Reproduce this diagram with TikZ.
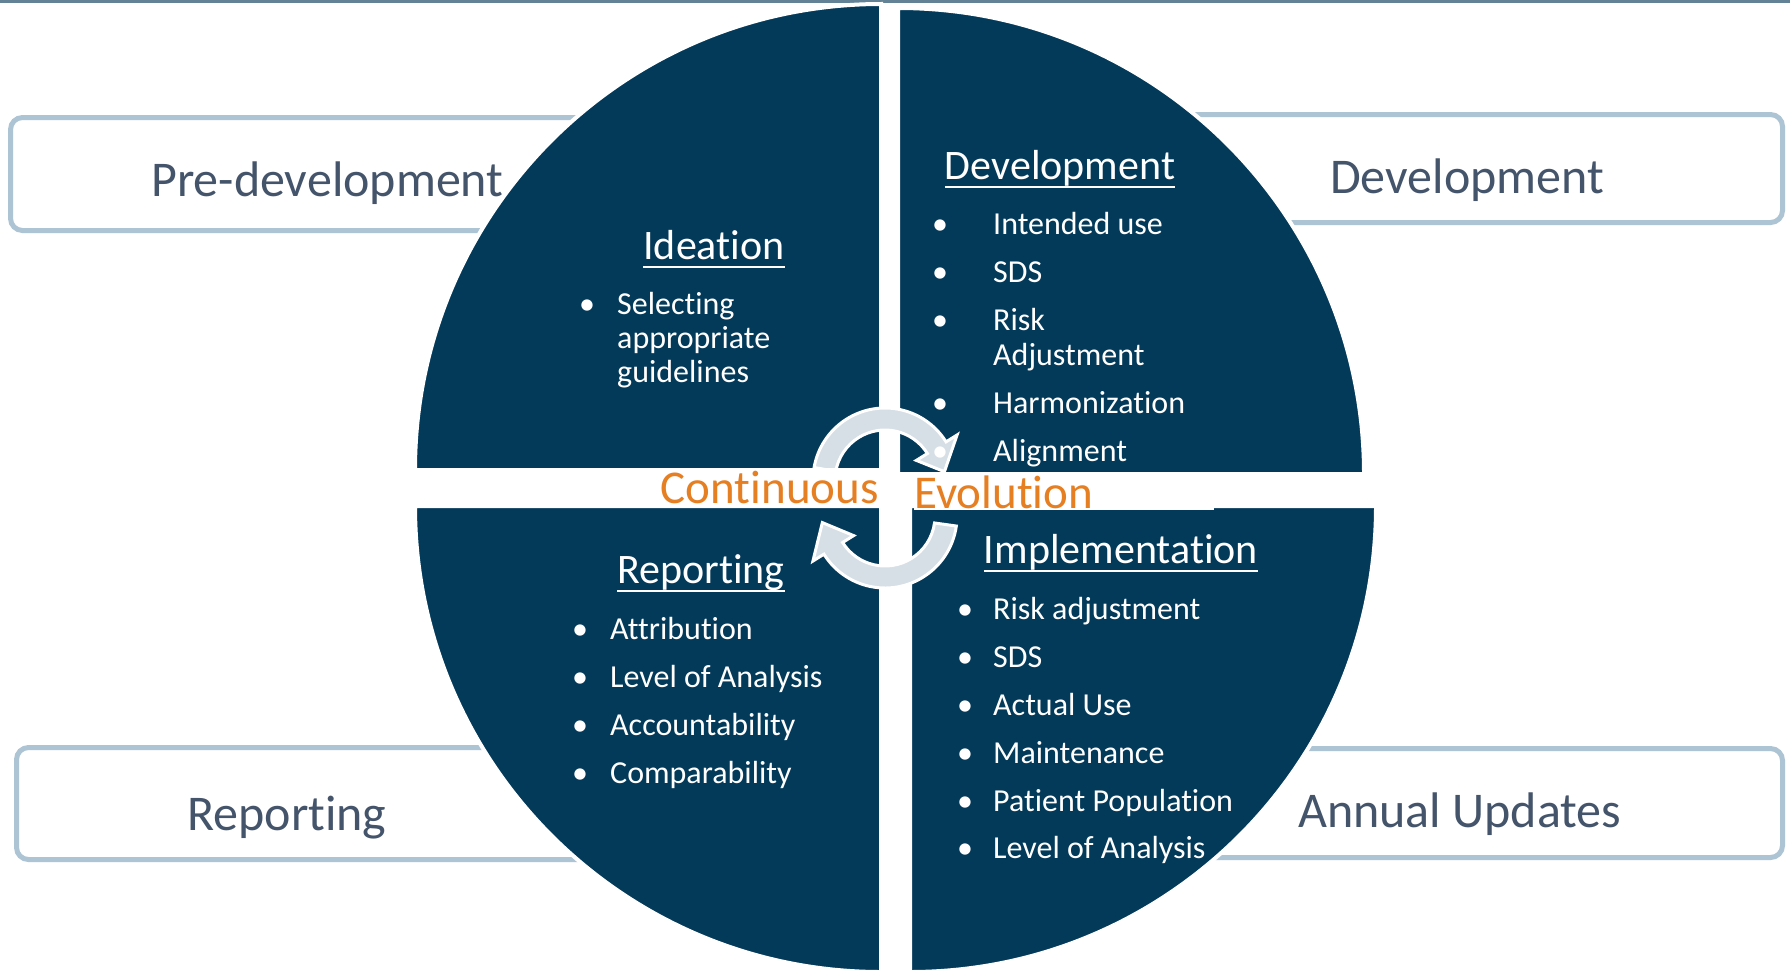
\documentclass[tikz,border=0pt]{standalone}
\usepackage{fontspec}
\setmainfont{Carlito}[RawFeature={-liga;-clig;-calt;-dlig}]
\usetikzlibrary{calc}
\definecolor{navy}{RGB}{3,58,89}
\definecolor{boxline}{RGB}{173,196,212}
\definecolor{boxtext}{RGB}{68,84,106}
\definecolor{arrowfill}{RGB}{214,222,230}
\definecolor{evoorange}{RGB}{230,126,34}
\definecolor{topline}{RGB}{100,130,150}
\tikzset{
  phasebox/.style={draw=boxline, line width=5bp, rounded corners=12bp},
  quadrant/.style={fill=navy, draw=white, line width=4bp},
  cyclearrow/.style={fill=arrowfill, draw=white, line width=3bp, line join=miter},
  boxtxt/.style={anchor=base west, inner sep=0pt, text=boxtext, font=\fontsize{50bp}{56bp}\selectfont},
  headtxt/.style={anchor=base, inner sep=0pt, text=white, font=\fontsize{42bp}{46bp}\selectfont},
  bul/.style={anchor=base, inner sep=0pt, text=white, font=\fontsize{32bp}{35bp}\selectfont},
  itm/.style={anchor=base west, inner sep=0pt, text=white, font=\fontsize{32bp}{35bp}\selectfont},
  evo/.style={inner sep=0pt, text=evoorange, font=\fontsize{47bp}{52bp}\selectfont},
  uline/.style={draw=white, line width=2.5bp}
}
\begin{document}
\begin{tikzpicture}[x=1bp,y=-1bp]
\useasboundingbox (0,0) rectangle (1790,970);
\fill[white] (0,0) rectangle (1790,970);
\draw[topline, line width=3bp] (0,1.5) -- (1790,1.5);

% phase boxes
\draw[phasebox] (10.5,117.5) rectangle (800,230.5);
\draw[phasebox] (1000,114.5) rectangle (1782.5,222.5);
\draw[phasebox] (16.5,747.5) rectangle (800,859.5);
\draw[phasebox] (1000,748.5) rectangle (1782.5,857.5);

\node[boxtxt] (tPre) at (151,196) {Pre-development};
\node[boxtxt] (tDev) at (1330,193) {Development};
\node[boxtxt] (tRep) at (187,830) {Reporting};
\node[boxtxt] (tAnn) at (1298,827) {Annual Updates};

% quadrants
\draw[quadrant] (881,470) -- (415,470) arc[start angle=180, end angle=270, radius=466] -- cycle;
\draw[quadrant] (898,474) -- (898,8) arc[start angle=270, end angle=360, radius=466] -- cycle;
\draw[quadrant] (910,506) -- (1376,506) arc[start angle=0, end angle=90, radius=466] -- cycle;
\draw[quadrant] (881,506) -- (881,972) arc[start angle=90, end angle=180, radius=466] -- cycle;

% cycle arrows
\coordinate (U) at (885,480);
\coordinate (L) at (885,516);
\draw[cyclearrow] ($(U)+(190:72)$) arc[start angle=190, end angle=328, radius=72]
  -- ($(U)+(328:85)$) -- ($(U)+(352:60)$) -- ($(U)+(328:37)$) -- ($(U)+(328:50)$)
  arc[start angle=328, end angle=190, radius=50] -- cycle;
\draw[cyclearrow] ($(L)+(8:72)$) arc[start angle=8, end angle=148, radius=72]
  -- ($(L)+(148:85)$) -- ($(L)+(174:63)$) -- ($(L)+(148:37)$) -- ($(L)+(148:50)$)
  arc[start angle=148, end angle=8, radius=50] -- cycle;

\node[evo, anchor=base east, fill=white, text height=35bp, text depth=5bp] (cont) at (879,503) {Continuous};
\node[evo, anchor=base west, fill=white, text height=36bp, text depth=2bp, text width=300bp, align=left] (evol) at (914,508) {Evolution};

% Ideation
\node[headtxt] (hIdea) at (714,259) {Ideation};
\draw[uline] ([yshift=-8bp]hIdea.base west) -- ([yshift=-8bp]hIdea.base east);
\node[bul] (bI1) at (587,314) {•};
\node[itm] (tI1) at (617,314) {Selecting};
\node[itm] (tI2) at (617,348) {appropriate};
\node[itm] (tI3) at (617,382) {guidelines};

% Development
\node[headtxt] (hDev) at (1060,179) {Development};
\draw[uline] ([yshift=-8bp]hDev.base west) -- ([yshift=-8bp]hDev.base east);
\node[bul] (bD1) at (940,234) {•};
\node[itm] (tD1) at (993,234) {Intended use};
\node[bul] (bD2) at (940,282) {•};
\node[itm] (tD2) at (993,282) {SDS};
\node[bul] (bD3) at (940,330) {•};
\node[itm] (tD3) at (993,330) {Risk};
\node[itm] (tD3b) at (993,365) {Adjustment};
\node[bul] (bD4) at (940,413) {•};
\node[itm] (tD4) at (993,413) {Harmonization};
\node[bul] (bD5) at (940,461) {•};
\node[itm] (tD5) at (993,461) {Alignment};

% Reporting
\node[headtxt] (hRep) at (701,583) {Reporting};
\draw[uline] ([yshift=-8bp]hRep.base west) -- ([yshift=-8bp]hRep.base east);
\node[bul] (bR1) at (580,639) {•};
\node[itm] (tR1) at (610,639) {Attribution};
\node[bul] (bR2) at (580,687) {•};
\node[itm] (tR2) at (610,687) {Level of Analysis};
\node[bul] (bR3) at (580,735) {•};
\node[itm] (tR3) at (610,735) {Accountability};
\node[bul] (bR4) at (580,783) {•};
\node[itm] (tR4) at (610,783) {Comparability};

% Implementation
\node[headtxt] (hImp) at (1121,563) {Implementation};
\draw[uline] ([yshift=-8bp]hImp.base west) -- ([yshift=-8bp]hImp.base east);
\node[bul] (bM1) at (965,619) {•};
\node[itm] (tM1) at (993,619) {Risk adjustment};
\node[bul] (bM2) at (965,667) {•};
\node[itm] (tM2) at (993,667) {SDS};
\node[bul] (bM3) at (965,715) {•};
\node[itm] (tM3) at (993,715) {Actual Use};
\node[bul] (bM4) at (965,763) {•};
\node[itm] (tM4) at (993,763) {Maintenance};
\node[bul] (bM5) at (965,811) {•};
\node[itm] (tM5) at (993,811) {Patient Population};
\node[bul] (bM6) at (965,858) {•};
\node[itm] (tM6) at (993,858) {Level of Analysis};
\end{tikzpicture}
\end{document}
